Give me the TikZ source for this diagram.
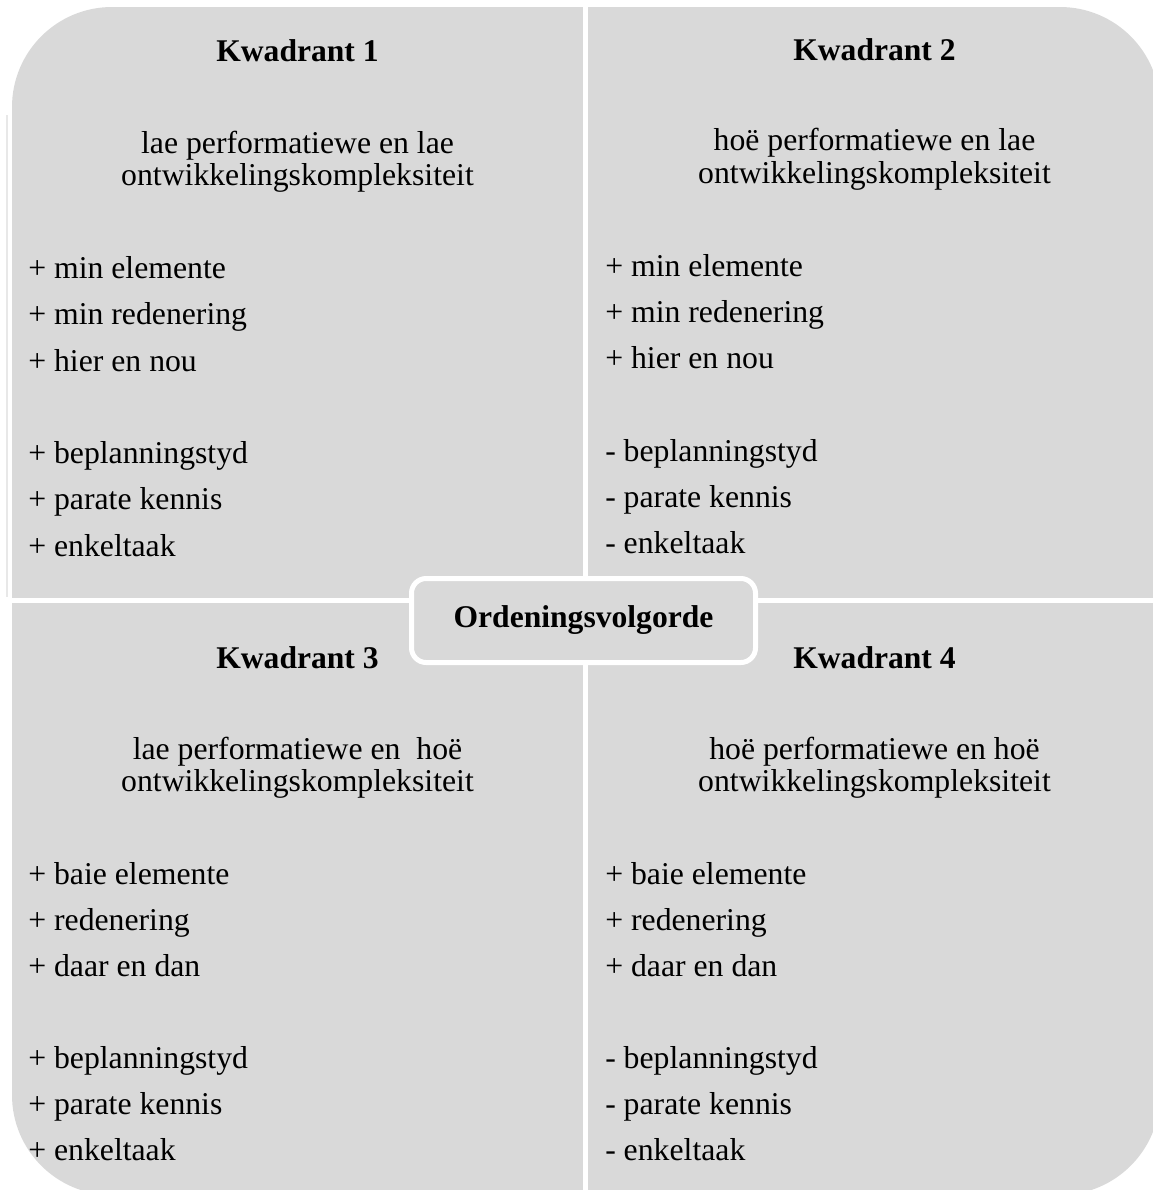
\documentclass[tikz,border=0pt]{standalone}
\usepackage{fontspec}
\setmainfont{Liberation Serif}
\usetikzlibrary{positioning}
\definecolor{vlak}{HTML}{D9D9D9}
\tikzset{
  kop/.style={font=\fontsize{23.7}{28}\selectfont\bfseries,anchor=base,inner sep=0pt},
  sub/.style={font=\fontsize{23.8}{28}\selectfont,anchor=base,inner sep=0pt},
  item/.style={font=\fontsize{23.8}{28}\selectfont,anchor=base west,inner sep=0pt},
  kern/.style={draw=white,line width=3.75pt,fill=vlak,rounded corners=11pt,
               minimum width=258pt,minimum height=63pt,inner sep=0pt,
               font=\fontsize{23.7}{28}\selectfont\bfseries},
  gap/.style={draw=white,line width=#1},
}
\begin{document}
\begin{tikzpicture}[x=0.75pt,y=-0.75pt]
  \useasboundingbox (0,0) rectangle (1153,1190);
  % vlakke en skeiding
  \draw[black!9,line width=1.5pt] (7,115) -- (7,597);
  \fill[vlak,rounded corners=75pt] (12,7) rectangle (1160,1195);
  \draw[gap=4.1pt] (0,600.3) -- (1153,600.3);
  \draw[gap=3.75pt] (585.5,0) -- (585.5,1190);
  % kwadrante
  \node[kop] (k1) at (297.5,61.7) {Kwadrant 1};
  \node[kop] (k2) at (874.5,60)   {Kwadrant 2};
  \node[kop] (k3) at (297.5,668)  {Kwadrant 3};
  \node[kop] (k4) at (874.5,668)  {Kwadrant 4};
  \node[sub] (s1a) at (297.5,153) {lae performatiewe en lae};
  \node[sub] (s1b) at (297.5,185) {ontwikkelingskompleksiteit};
  \node[sub] (s2a) at (874.5,150) {hoë performatiewe en lae};
  \node[sub] (s2b) at (874.5,183) {ontwikkelingskompleksiteit};
  \node[sub] (s3a) at (297.5,759) {lae performatiewe en~ hoë};
  \node[sub] (s3b) at (297.5,791) {ontwikkelingskompleksiteit};
  \node[sub] (s4a) at (874.5,759) {hoë performatiewe en hoë};
  \node[sub] (s4b) at (874.5,791) {ontwikkelingskompleksiteit};
  % lyste
  \foreach \t [count=\i] in {+ min elemente,+ min redenering,+ hier en nou}{
    \node[item] (l1a\i) at (28,{278+46.5*(\i-1)}) {\t};
    \node[item] (l2a\i) at (605,{276+46*(\i-1)}) {\t};
  }
  \foreach \t [count=\i] in {beplanningstyd,parate kennis,enkeltaak}{
    \node[item] (l1b\i) at (28,{463+46.5*(\i-1)}) {+ \t};
    \node[item] (l2b\i) at (605,{461.5+46*(\i-1)}) {- \t};
    \node[item] (l3b\i) at (28,{1068+46*(\i-1)}) {+ \t};
    \node[item] (l4b\i) at (605,{1068+46*(\i-1)}) {- \t};
  }
  \foreach \t [count=\i] in {+ baie elemente,+ redenering,+ daar en dan}{
    \node[item] (l3a\i) at (28,{884+46*(\i-1)}) {\t};
    \node[item] (l4a\i) at (605,{884+46*(\i-1)}) {\t};
  }
  % middel
  \node[kern] (orde) at (583.5,620.5) {Ordeningsvolgorde};
\end{tikzpicture}
\end{document}
